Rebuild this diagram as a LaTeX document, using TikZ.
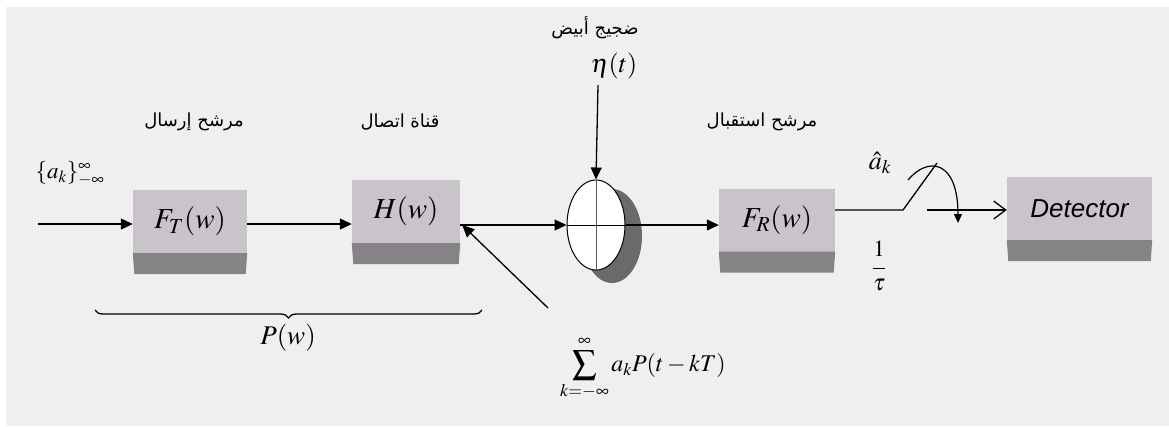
\documentclass[tikz,border=0pt]{standalone}
\usepackage{mathptmx}
\usepackage{fontspec}
\setmainfont{Liberation Serif}
\newfontfamily\arabicfont[Script=Arabic]{DejaVu Sans}
\newfontfamily\detfont{Liberation Sans}
\TeXXeTstate=1
\usetikzlibrary{arrows.meta,decorations.pathreplacing,calc,shapes.geometric}
\definecolor{bgc}{HTML}{EFEFEF}
\definecolor{boxlight}{HTML}{C9C3CA}
\definecolor{boxdark}{HTML}{868386}
\definecolor{shadowc}{HTML}{6A6A6A}
\tikzset{
  blk/.style={fill=boxlight, inner sep=0pt, minimum height=63pt, font=\fontsize{29}{33}\selectfont},
  arlbl/.style={font=\arabicfont\fontsize{18}{21}\selectfont, inner sep=0pt},
  mlbl/.style={inner sep=0pt, font=\fontsize{26}{30}\selectfont},
  conn/.style={line width=1.3pt, -{Triangle[length=12pt,width=11pt]}},
  plain/.style={line width=1.3pt},
}
\newcommand\myband[1]{\fill[boxdark] (#1.south west) -- (#1.south east) -- ([shift={(-1.5,21)}]#1.south east) -- ([shift={(1.5,21)}]#1.south west) -- cycle;}
\begin{document}
\begin{tikzpicture}[x=1pt,y=-1pt]
\useasboundingbox (0,0) rectangle (1169,426);
\fill[white] (0,0) rectangle (1169,426);
\fill[bgc] (6,7) rectangle (1169,426);

% blocks
\node[blk, minimum width=114pt] (ft) at (190,221.5) {$F_T(w)$};
\myband{ft}
\node[blk, minimum width=108pt] (h) at (406,211.5) {$H(w)$};
\myband{h}
\node[blk, minimum width=116pt] (fr) at (777,220) {$F_R(w)$};
\myband{fr}
\node[blk, minimum width=145pt, font=\detfont\itshape\fontsize{26}{30}\selectfont] (det) at (1079.5,208.5) {Detector};
\myband{det}

% summing junction
\fill[shadowc] (612,236) ellipse [x radius=30, y radius=47];
\node[ellipse, draw, line width=1pt, fill=white, minimum width=58pt, minimum height=90pt, inner sep=0pt] (sum) at (596,225) {};
\draw[gray!70!black, line width=1pt] (sum.north) -- (sum.south);
\draw[line width=1pt] (sum.west) -- (sum.east);

% labels
\node[arlbl] (lft) at (194,122) {\beginR مرشح إرسال\endR};
\node[arlbl] (lh) at (400,122) {\beginR قناة اتصال\endR};
\node[arlbl] (lfr) at (762,122) {\beginR مرشح استقبال\endR};
\node[arlbl] (lnoise) at (595,28) {\beginR ضجيج أبيض\endR};
\node[mlbl] (eta) at (614,66) {$\eta(t)$};
\node[mlbl, font=\fontsize{23}{27}\selectfont] (ak) at (70,174) {$\{a_k\}_{-\infty}^{\infty}$};
\node[mlbl] (ahat) at (880,163) {$\hat{a}_k$};
\node[mlbl, font=\fontsize{23}{27}\selectfont] (tau) at (879,268) {$\displaystyle\frac{\strut 1}{\strut\tau}$};
\node[mlbl, font=\fontsize{27}{31}\selectfont] (pw) at (288,338) {$P(w)$};
\node[mlbl, font=\fontsize{24}{28}\selectfont] (sumlbl) at (643,368) {$\displaystyle\sum_{k=-\infty}^{\infty} a_k P(t-kT)$};

% connectors
\coordinate (in) at (38,224);
\draw[conn] (in) -- (in -| ft.west);
\draw[conn] (ft.east |- in) -- (in -| h.west);
\draw[conn] (sum.west -| h.east) -- (sum.west);
\coordinate (dg) at (548,308);
\draw[conn] (dg) -- ($(sum.west -| h.east)+(2,0)$);
\draw[conn] (sum.north |- eta.south) ++(2,6) -- ($(sum.north)+(0,0)$);
\draw[conn] (sum.east) -- (sum.east -| fr.west);

% sampler switch
\coordinate (sw1) at (903,210);
\coordinate (sw2) at (937,163);
\coordinate (sw3) at (927,210);
\draw[plain] (fr.east |- sw1) -- (sw1) -- (sw2);
\draw[line width=1.2pt, -{Triangle[length=9pt,width=8pt]}] (908,180) .. controls (928,156) and (958,160) .. (958,223);
\draw[line width=1.3pt, -{Straight Barb[length=12pt,width=18pt]}] (sw3) -- (sw3 -| det.west);

% brace
\coordinate (b1) at (95,310);
\coordinate (b2) at (482,310);
\draw[line width=1.3pt, decorate, decoration={brace, mirror, amplitude=8pt}] (b1) -- (b2);
\end{tikzpicture}
\end{document}
